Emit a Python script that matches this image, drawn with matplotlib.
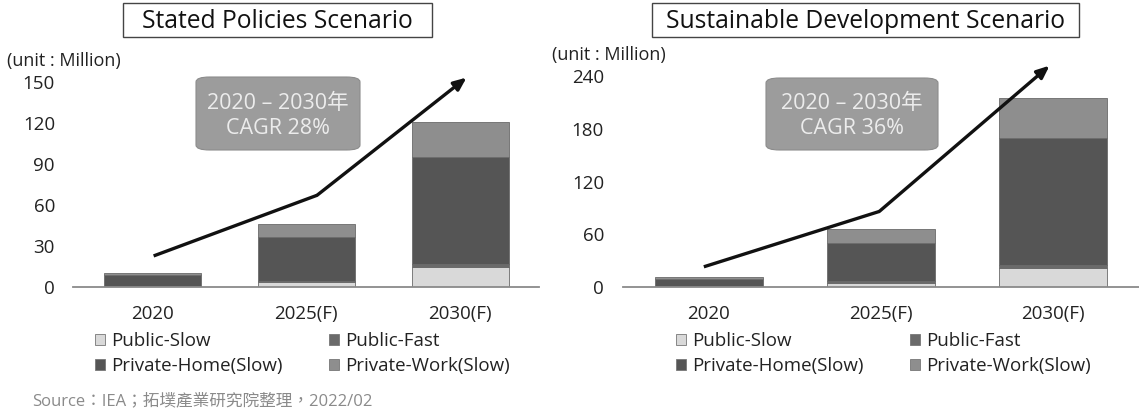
import matplotlib
matplotlib.use("Agg")
import matplotlib.pyplot as plt
from matplotlib.patches import FancyBboxPatch, Rectangle, Patch
import numpy as np

plt.rcParams['font.family'] = ['Open Sans', 'Noto Sans CJK TC', 'DejaVu Sans']

categories = ['2020', '2025(F)', '2030(F)']
series_names = ['Public-Slow', 'Public-Fast', 'Private-Home(Slow)', 'Private-Work(Slow)']

# Stated Policies Scenario (million)
sps_public_slow = [0.5, 3.7, 14.6]
sps_public_fast = [0.3, 0.8, 2.0]
sps_private_home = [8.0, 32.1, 78.4]
sps_private_work = [1.4, 9.4, 25.7]
sps_ticks = [0, 30, 60, 90, 120, 150]
sps_arrow_x = [0.01, 1.07, 2.04]
sps_arrow_y = [22.7, 67, 153]
sps_cagr = '2020 – 2030年\nCAGR 28%'

# Sustainable Development Scenario (million)
sds_public_slow = [0.6, 5, 22]
sds_public_fast = [0.4, 1.5, 3]
sds_private_home = [8.5, 44, 145]
sds_private_work = [1.5, 15.5, 45]
sds_ticks = [0, 60, 120, 180, 240]
sds_arrow_x = [-0.03, 0.99, 1.98]
sds_arrow_y = [23, 86, 252]
sds_cagr = '2020 – 2030年\nCAGR 36%'

colors = ['#d9d9d9', '#6a6a6a', '#555555', '#8e8e8e']

W, H = 1139, 411
fig = plt.figure(figsize=(W / 100, H / 100), dpi=100)
fig.patch.set_facecolor('white')


def px(x0, y0, x1, y1):
    return [x0 / W, 1 - y1 / H, (x1 - x0) / W, (y1 - y0) / H]


def draw(rect, data, ticks, ylim, xlim, width, arrow_x, arrow_y, cagr, cagr_box,
         title, title_box, unit_xy, leg_anchor, ypad):
    ax = fig.add_axes(rect)
    x = np.arange(len(categories))
    bottom = np.zeros(len(categories))
    handles = []
    for vals, name, c in zip(data, series_names, colors):
        ax.bar(x, vals, width, bottom=bottom, color=c, edgecolor='#6a6a6a',
               linewidth=0.6, label=name, zorder=2)
        bottom += np.array(vals)
        handles.append(Patch(facecolor=c, edgecolor='#777777', linewidth=0.6, label=name))
    ax.set_xlim(*xlim)
    ax.set_ylim(*ylim)
    ax.set_yticks(ticks)
    ax.set_xticks(x)
    ax.set_xticklabels(categories)
    for s in ['top', 'right', 'left']:
        ax.spines[s].set_visible(False)
    ax.spines['bottom'].set_color('#8a8a8a')
    ax.spines['bottom'].set_linewidth(1.3)
    ax.tick_params(axis='both', length=0, labelsize=13.5, colors='#222222')
    ax.tick_params(axis='y', pad=ypad)
    ax.tick_params(axis='x', pad=13)
    ax.patch.set_alpha(0)
    # arrow
    ax.plot(arrow_x[:2], arrow_y[:2], color='#111111', lw=2.4, zorder=4,
            solid_capstyle='butt')
    ax.annotate('', xy=(arrow_x[2], arrow_y[2]), xytext=(arrow_x[1], arrow_y[1]),
                arrowprops=dict(arrowstyle='-|>,head_length=0.75,head_width=0.32',
                                color='#111111', lw=2.4, shrinkA=0, shrinkB=0),
                zorder=4, annotation_clip=False)
    # CAGR box
    bx0, by0, bx1, by1 = cagr_box
    box = FancyBboxPatch((bx0 / W, 1 - by1 / H), (bx1 - bx0) / W, (by1 - by0) / H,
                         boxstyle='round,pad=0,rounding_size=0.012',
                         transform=fig.transFigure, facecolor='#9c9c9c',
                         edgecolor='#8c8c8c', linewidth=0.8, zorder=5)
    fig.patches.append(box)
    fig.text((bx0 + bx1) / 2 / W, 1 - ((by0 + by1) / 2 + 2) / H, cagr, ha='center',
             va='center', fontsize=15.5, color='#ececec', linespacing=1.25, zorder=6)
    # title
    tx0, ty0, tx1, ty1 = title_box
    fig.patches.append(Rectangle((tx0 / W, 1 - ty1 / H), (tx1 - tx0) / W, (ty1 - ty0) / H,
                                 transform=fig.transFigure, facecolor='white',
                                 edgecolor='#444444', linewidth=1.0))
    fig.text((tx0 + tx1) / 2 / W, 1 - ((ty0 + ty1) / 2 + 1) / H, title, ha='center',
             va='center', fontsize=17.7, color='#111111')
    fig.text(unit_xy[0] / W, 1 - unit_xy[1] / H, '(unit : Million)', ha='left',
             va='center', fontsize=13, color='#222222')
    order = [0, 2, 1, 3]
    fig.legend([handles[i] for i in order], [series_names[i] for i in order],
               ncol=2, loc='upper left',
               bbox_to_anchor=(leg_anchor[0] / W, 1 - leg_anchor[1] / H),
               frameon=False, fontsize=13.5, handlelength=0.55, handleheight=0.55,
               handletextpad=0.32, columnspacing=2.44, labelspacing=0.38,
               borderpad=0, borderaxespad=0, labelcolor='#222222')
    return ax


draw(px(73, 68, 539, 287),
     [sps_public_slow, sps_public_fast, sps_private_home, sps_private_work],
     sps_ticks, (0, 160), (-0.513, 2.51), 0.63, sps_arrow_x, sps_arrow_y, sps_cagr,
     (196, 77, 360, 150), 'Stated Policies Scenario', (123, 3, 432, 37), (7, 61),
     (95, 332), 13)

draw(px(623, 63, 1139, 287),
     [sds_public_slow, sds_public_fast, sds_private_home, sds_private_work],
     sds_ticks, (0, 255), (-0.5, 2.5), 0.63, sds_arrow_x, sds_arrow_y, sds_cagr,
     (766, 78, 938, 150), 'Sustainable Development Scenario', (652, 3, 1079, 37),
     (552, 55), (676, 332), 13.7)

fig.text(32 / W, 1 - 401 / H, 'Source：IEA；拓墣產業研究院整理，2022/02', ha='left',
         va='center', fontsize=12, color='#8a8a8a')

fig.savefig('out.png', dpi=100, facecolor='white')
